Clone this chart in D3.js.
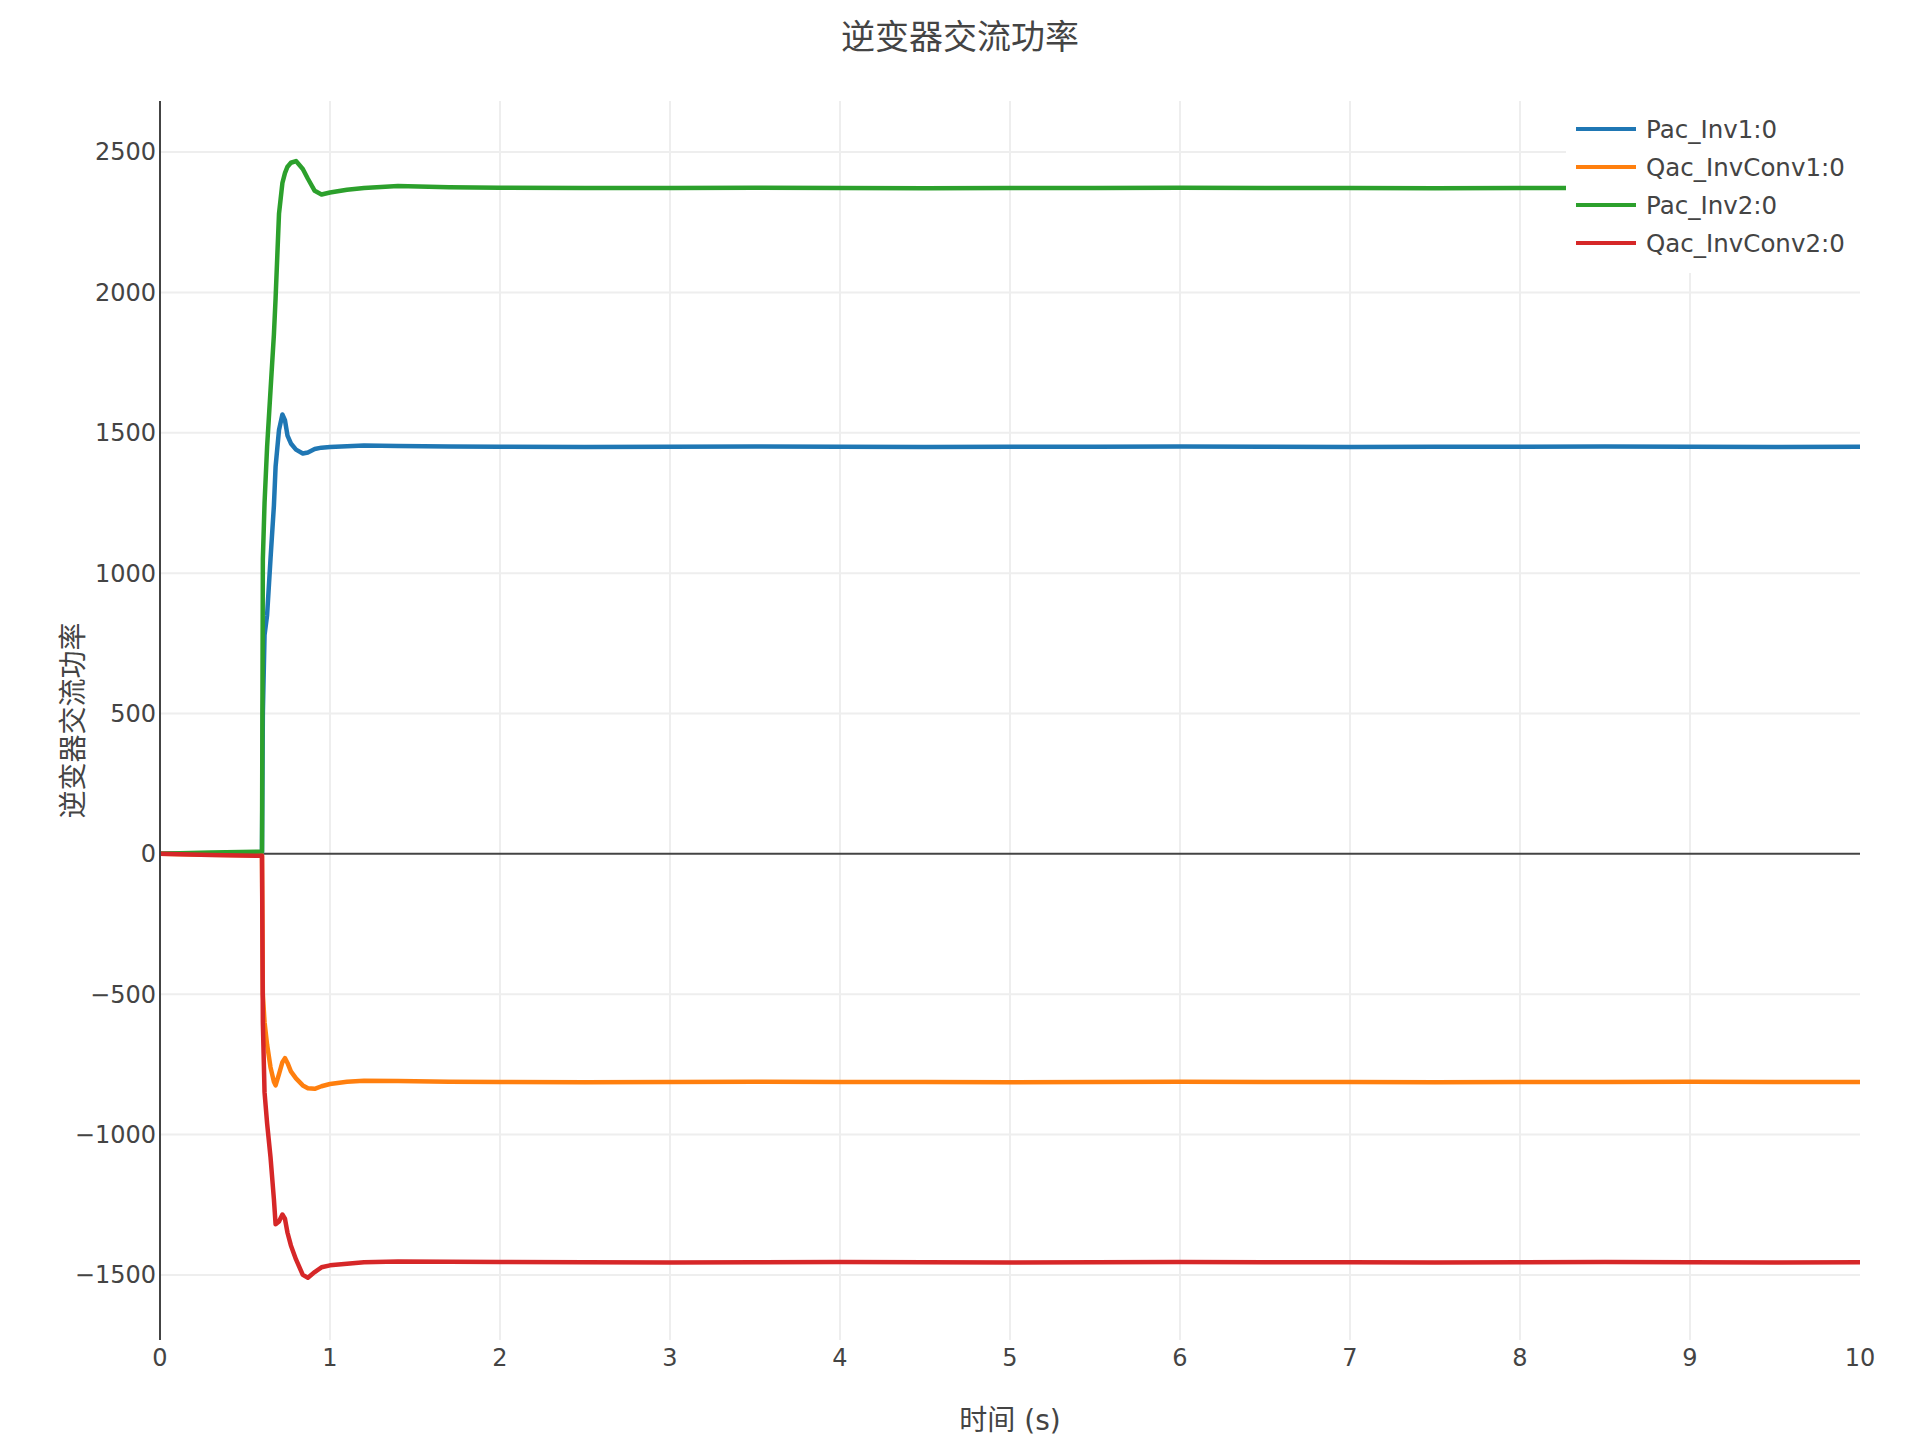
<!DOCTYPE html>
<html>
<head>
<meta charset="utf-8">
<script src="https://cdn.jsdelivr.net/npm/d3@7"></script>
<style>
  body { margin: 0; background: #fff; }
  text { font-family: "DejaVu Sans", "Noto Sans CJK SC", sans-serif; fill: #444; }
</style>
</head>
<body>
<svg id="chart"></svg>
<script>
// time axis (s) shared by all series
const times = [0, 0.3, 0.595, 0.6, 0.605, 0.615, 0.63, 0.65, 0.67, 0.68, 0.7, 0.72, 0.735, 0.75, 0.77, 0.8,
  0.84, 0.87, 0.91, 0.95, 1.0, 1.1, 1.2, 1.4, 1.7, 2, 2.5, 3, 3.5, 4, 4.5, 5, 5.5, 6, 6.5, 7, 7.5,
  8, 8.5, 9, 9.5, 10];

const pacInv1 = [0, 2, 3, 3, 500, 780, 850, 1050, 1240, 1380, 1510, 1565, 1545, 1490, 1462, 1440,
  1426, 1430, 1442, 1447, 1449, 1452, 1455, 1453, 1451, 1450, 1449, 1450, 1451, 1450, 1449, 1450, 1450,
  1451, 1450, 1449, 1450, 1450, 1451, 1450, 1449, 1450];

const qacInvConv1 = [0, -3, -5, -5, -500, -600, -680, -760, -812, -825, -785, -742, -728, -745, -775, -800,
  -825, -835, -837, -828, -820, -812, -808, -809, -812, -813, -814, -813, -812, -813, -813, -814, -813,
  -812, -813, -813, -814, -813, -813, -812, -813, -813];

const pacInv2 = [0, 5, 8, 8, 1050, 1250, 1450, 1650, 1850, 1980, 2280, 2390, 2425, 2448, 2462, 2468,
  2440, 2405, 2362, 2349, 2356, 2366, 2372, 2379, 2375, 2373, 2372, 2372, 2373, 2372, 2371, 2372, 2372,
  2373, 2372, 2372, 2371, 2372, 2372, 2373, 2372, 2372];

const qacInvConv2 = [0, -4, -7, -7, -600, -850, -960, -1080, -1230, -1320, -1310, -1285, -1300, -1350, -1395, -1445,
  -1500, -1510, -1490, -1473, -1466, -1460, -1455, -1452, -1453, -1454, -1455, -1456, -1455, -1454, -1455, -1456, -1455,
  -1454, -1455, -1455, -1456, -1455, -1454, -1455, -1456, -1455];

const seriesNames = ["Pac_Inv1:0", "Qac_InvConv1:0", "Pac_Inv2:0", "Qac_InvConv2:0"];
const seriesColors = ["#1f77b4", "#ff7f0e", "#2ca02c", "#d62728"];
const seriesValues = [pacInv1, qacInvConv1, pacInv2, qacInvConv2];

const xTicks = [0, 1, 2, 3, 4, 5, 6, 7, 8, 9, 10];
const yTicks = [-1500, -1000, -500, 0, 500, 1000, 1500, 2000, 2500];

const chartTitle = "逆变器交流功率";
const xTitle = "时间 (s)";
const yTitle = "逆变器交流功率";

// layout
const W = 1920, H = 1440;
const plot = { left: 160, right: 1860, top: 101, bottom: 1340 };

const svg = d3.select('#chart').attr('width', W).attr('height', H);
svg.append('rect').attr('width', W).attr('height', H).attr('fill', '#fff');

const x = d3.scaleLinear().domain([0, 10]).range([plot.left, plot.right]);
const y = d3.scaleLinear().domain([-1732, 2682]).range([plot.bottom, plot.top]);

// grid
const grid = svg.append('g');
grid.selectAll('line.h')
  .data(yTicks.filter(d => d !== 0))
  .join('line')
  .attr('x1', plot.left).attr('x2', plot.right)
  .attr('y1', d => y(d)).attr('y2', d => y(d))
  .attr('stroke', '#eee').attr('stroke-width', 2);
grid.selectAll('line.v')
  .data(xTicks.filter(d => d > 0 && d < 10))
  .join('line')
  .attr('x1', d => x(d)).attr('x2', d => x(d))
  .attr('y1', plot.top).attr('y2', plot.bottom)
  .attr('stroke', '#eee').attr('stroke-width', 2);

// zero line
svg.append('line')
  .attr('x1', plot.left).attr('x2', plot.right)
  .attr('y1', y(0)).attr('y2', y(0))
  .attr('stroke', '#444').attr('stroke-width', 2);

// series
const line = d3.line().x((d, i) => x(times[i])).y(d => y(d));
svg.append('g')
  .selectAll('path')
  .data(seriesValues)
  .join('path')
  .attr('d', d => line(d))
  .attr('fill', 'none')
  .attr('stroke', (d, i) => seriesColors[i])
  .attr('stroke-width', 4.5)
  .attr('stroke-linejoin', 'round');

// y axis line
svg.append('line')
  .attr('x1', plot.left).attr('x2', plot.left)
  .attr('y1', plot.top).attr('y2', plot.bottom)
  .attr('stroke', '#444').attr('stroke-width', 2);

// tick labels
const fmt = d => (d < 0 ? '\u2212' : '') + Math.abs(d);
svg.append('g').selectAll('text')
  .data(yTicks)
  .join('text')
  .attr('x', plot.left - 4)
  .attr('y', d => y(d))
  .attr('dy', '0.35em')
  .attr('text-anchor', 'end')
  .attr('font-size', 24)
  .text(fmt);

svg.append('g').selectAll('text')
  .data(xTicks)
  .join('text')
  .attr('x', d => x(d))
  .attr('y', 1366)
  .attr('text-anchor', 'middle')
  .attr('font-size', 24)
  .text(d => d);

// titles
svg.append('text')
  .attr('x', W / 2).attr('y', 49)
  .attr('text-anchor', 'middle')
  .attr('font-size', 34)
  .text(chartTitle);

svg.append('text')
  .attr('x', (plot.left + plot.right) / 2).attr('y', 1430)
  .attr('text-anchor', 'middle')
  .attr('font-size', 28)
  .text(xTitle);

svg.append('text')
  .attr('transform', `translate(73, ${(plot.top + plot.bottom) / 2}) rotate(-90)`)
  .attr('dy', '0.35em')
  .attr('text-anchor', 'middle')
  .attr('font-size', 28)
  .text(yTitle);

// legend
const legend = svg.append('g');
legend.append('rect')
  .attr('x', 1566).attr('y', plot.top)
  .attr('width', 304).attr('height', 172)
  .attr('fill', '#fff');
const item = legend.selectAll('g')
  .data(seriesNames)
  .join('g')
  .attr('transform', (d, i) => `translate(1576, ${129 + i * 38})`);
item.append('line')
  .attr('x1', 0).attr('x2', 60)
  .attr('stroke', (d, i) => seriesColors[i])
  .attr('stroke-width', 4);
item.append('text')
  .attr('x', 70).attr('dy', '0.35em')
  .attr('font-size', 24.5)
  .text(d => d);
</script>
</body>
</html>
